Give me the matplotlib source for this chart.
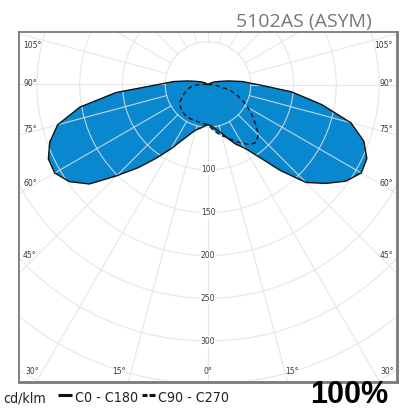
import numpy as np
import matplotlib
matplotlib.use('Agg')
import matplotlib.pyplot as plt
from matplotlib import font_manager
from matplotlib.font_manager import FontProperties
from matplotlib.patches import Circle
from matplotlib.lines import Line2D

# photometric data, cd/klm, gamma in degrees from nadir
gamma = np.arange(0, 130, 5)
c0 = [47, 49, 53, 58, 67, 77, 86, 103, 131, 162, 180, 197, 207,
      205, 194, 173, 135, 98, 58, 40, 24, 14, 9, 6, 3, 0]
c180 = [47, 49, 52, 55, 62, 72, 87, 105, 127, 151, 181, 198, 207,
        206, 197, 182, 152, 108, 58, 40, 24, 14, 9, 6, 3, 0]
c90 = [47, 52, 57, 62, 66, 73, 79, 86, 88, 83, 73, 63, 54,
       45, 36, 27, 15, 8, 4, 0, 0, 0, 0, 0, 0, 0]
c270 = [47, 46, 46, 45, 45, 45, 45, 45, 44, 43, 42, 40, 37,
        33, 29, 26, 22, 18, 10, 3, 0, 0, 0, 0, 0, 0]

rings = [50, 100, 150, 200, 250, 300, 350, 400, 450]
ring_labels = [100, 150, 200, 250, 300]
spokes = np.arange(0, 360, 15)

title = '5102AS (ASYM)'
unit = 'cd/klm'
series1 = 'C0 - C180'
series2 = 'C90 - C270'
lor = '100%'

BLUE = '#0a88cf'


def pick_narrow():
    # look for a condensed / narrow regular face
    ents = [f for f in font_manager.fontManager.ttflist
            if f.style == 'normal' and f.weight in (400, 'normal', 'regular', 'book')]
    order = ['Liberation Sans Narrow', 'Noto Sans', 'DejaVu Sans', 'Roboto', 'Open Sans']
    for fam in order:
        for f in ents:
            nm = f.name
            cond = ('Narrow' in nm or 'Condensed' in nm or
                    str(f.stretch) in ('condensed', 'semi-condensed', 'extra-condensed'))
            if nm.startswith(fam) and cond and 'Semi' not in f.fname and 'Extra' not in f.fname:
                return f.fname
    return None


W, H = 406, 409
fig = plt.figure(figsize=(W / 100, H / 100), dpi=100)
fig.patch.set_facecolor('white')

# frame in pixels: x 19..397, y 32..382 ; origin at (208, 84.5)
S = 0.855
ox, oy = 208, 84.5
L, R, T, B = 19, 397, 32, 382
ax = fig.add_axes([L / W, 1 - B / H, (R - L) / W, (B - T) / H])
ax.set_xlim((L - ox) / S, (R - ox) / S)
ax.set_ylim((oy - B) / S, (oy - T) / S)
ax.set_xticks([])
ax.set_yticks([])
for name, sp in ax.spines.items():
    sp.set_color('#7a7a7a')
    sp.set_linewidth(2.0 if name in ('right', 'bottom') else 1.3)


def px(x, y):
    return (x - ox) / S, (oy - y) / S


def curve(right, left):
    g = np.radians(gamma)
    r = np.asarray(right, float)
    l = np.asarray(left, float)
    xr, yr = r * np.sin(g), -r * np.cos(g)
    xl, yl = -l * np.sin(g), -l * np.cos(g)
    x = np.concatenate([xr[::-1], xl])
    y = np.concatenate([yr[::-1], yl])
    return x, y


x1, y1 = curve(c0, c180)
x2, y2 = curve(c90, c270)
ax.fill(x1, y1, color=BLUE, lw=0, zorder=1)
ax.fill(x2, y2, color=BLUE, lw=0, zorder=1)

# grid
gcol = '#e2e2e2'
for r in rings:
    ax.add_patch(Circle((0, 0), r, fill=False, ec=gcol, lw=0.8, alpha=0.85, zorder=2))
for a in spokes:
    t = np.radians(a)
    ax.plot([50 * np.sin(t), 600 * np.sin(t)], [-50 * np.cos(t), -600 * np.cos(t)],
            color=gcol, lw=0.8, alpha=0.85, zorder=2)

ax.plot(x1, y1, color='#111111', lw=1.0, zorder=3, solid_joinstyle='round')
ax.plot(x2, y2, color='#111111', lw=1.0, ls=(0, (3.2, 2.4)), zorder=3)

for v in ring_labels:
    ax.text(0, -v, str(v), ha='center', va='center', fontsize=5.5, color='#3a3a3a',
            bbox=dict(fc='white', ec='none', pad=0.6), zorder=4)

lab_kw = dict(fontsize=5.5, color='#3a3a3a', va='center', zorder=4)
side = [('105°', 45), ('90°', 84), ('75°', 129), ('60°', 184), ('45°', 256)]
for s, yy in side:
    ax.text(*px(23, yy), s, ha='left', **lab_kw)
    ax.text(*px(393, yy), s, ha='right', **lab_kw)
bottom = [('30°', 32), ('15°', 119), ('0°', 208), ('15°', 292), ('30°', 387)]
for s, xx in bottom:
    ax.text(*px(xx, 372), s, ha='center', **lab_kw)

# header
fig.text(372 / W, 1 - 27 / H, title, ha='right', va='baseline', fontsize=14,
         family='Open Sans', color='#777777')

# footer: cd/klm  — C0 - C180  -- C90 - C270, laid out piece by piece
fname = pick_narrow()
renderer = fig.canvas.get_renderer()
pieces = [('t', unit), ('g', 12), ('solid', 14), ('g', 3), ('t', series1),
          ('g', 4), ('dash', 13), ('g', 3), ('t', series2)]
fixed = sum(v for k, v in pieces if k != 't')


def footer(size):
    if fname:
        fp = FontProperties(fname=fname, size=size)
    else:
        fp = FontProperties(family='Roboto', size=size)
    arts = []
    x = 3.0
    base = 1 - 402 / H
    ymid = 1 - 395 / H
    for kind, val in pieces:
        if kind == 't':
            t = fig.text(x / W, base, val, ha='left', va='baseline', fontproperties=fp,
                         color='#222222')
            arts.append(t)
            x += t.get_window_extent(renderer).width
        elif kind == 'g':
            x += val
        else:
            segs = [(0, val)] if kind == 'solid' else [(0, 5.5), (7.5, 13)]
            for a0, a1 in segs:
                ln = Line2D([(x + a0) / W, (x + a1) / W], [ymid, ymid], color='#111111',
                            lw=2.2, solid_capstyle='butt', transform=fig.transFigure)
                fig.add_artist(ln)
                arts.append(ln)
            x += val
    return arts, x


size = 15.0
arts, xend = footer(size)
if xend > 229:
    for a in arts:
        a.remove()
    size = size * (229 - 3 - fixed) / (xend - 3 - fixed)
    arts, xend = footer(size)

fig.text(388 / W, 1 - 403 / H, lor, ha='right', va='baseline', fontsize=22,
         family='Liberation Sans', weight='bold', color='black')

fig.savefig('out.png', dpi=100)
